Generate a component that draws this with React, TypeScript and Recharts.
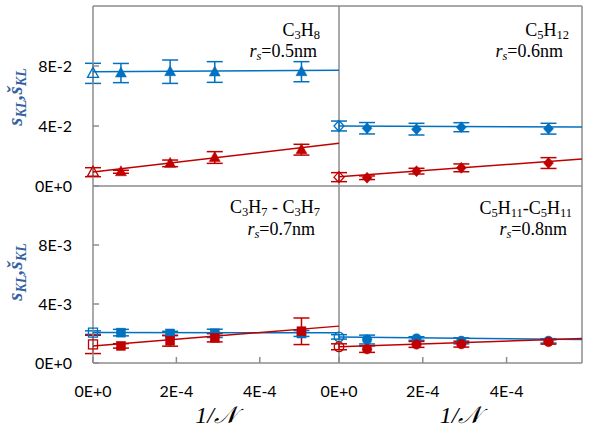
import React from "react";
import { ComposedChart, ErrorBar, Scatter, XAxis, YAxis } from "recharts";

// 1/N sample points (same for all four systems)
const invN = [0, 6.7e-5, 1.85e-4, 2.92e-4, 5.0e-4];

const xTicks = [0, 2e-4, 4e-4];
const xTickLabels = ["0E+0", "2E-4", "4E-4"];
const yTicksTop = [0, 0.04, 0.08];
const yTickLabelsTop = ["0E+0", "4E-2", "8E-2"];
const yTicksBottom = [0, 0.004, 0.008];
const yTickLabelsBottom = ["0E+0", "4E-3", "8E-3"];

// C3H8, rs = 0.5nm
const c3h8Blue = [0.0751, 0.0753, 0.0762, 0.076, 0.0762];
const c3h8BlueErr = [0.0067, 0.0064, 0.0078, 0.0069, 0.0067];
const c3h8Red = [0.0092, 0.0095, 0.0151, 0.019, 0.0242];
const c3h8RedErr = [0.003, 0.001, 0.0022, 0.0039, 0.0036];
const c3h8BlueFit = [0.0762, 0.0772];
const c3h8RedFit = [0.0093, 0.0285];

// C5H12, rs = 0.6nm
const c5h12Blue = [0.04, 0.0385, 0.0379, 0.0392, 0.0382];
const c5h12BlueErr = [0.0033, 0.0038, 0.0039, 0.003, 0.0036];
const c5h12Red = [0.0059, 0.0055, 0.0099, 0.0121, 0.0153];
const c5h12RedErr = [0.003, 0.0012, 0.0019, 0.0026, 0.0036];
const c5h12BlueFit = [0.04, 0.0393];
const c5h12RedFit = [0.0062, 0.018];

// C3H7-C3H7, rs = 0.7nm
const c3h7Blue = [0.00206, 0.00206, 0.002, 0.00201, 0.002];
const c3h7BlueErr = [0.00012, 0.00022, 0.00015, 0.00028, 0.0002];
const c3h7Red = [0.00126, 0.00116, 0.00151, 0.00171, 0.00215];
const c3h7RedErr = [0.00062, 0.00015, 0.00037, 0.00028, 0.0009];
const c3h7BlueFit = [0.00206, 0.00205];
const c3h7RedFit = [0.00116, 0.0025];

// C5H11-C5H11, rs = 0.8nm
const c5h11Blue = [0.00177, 0.00159, 0.00166, 0.0015, 0.0015];
const c5h11BlueErr = [0.00015, 0.0003, 0.00012, 0.0002, 0.00015];
const c5h11Red = [0.0011, 0.00094, 0.00126, 0.00128, 0.00143];
const c5h11RedErr = [0.0002, 0.00022, 0.0002, 0.0002, 0.00015];
const c5h11BlueFit = [0.00177, 0.00159];
const c5h11RedFit = [0.0011, 0.00166];

const BLUE = "#0070C0";
const RED = "#C00000";
const FRAME = "#8c8c8c";

type Kind = "triangle" | "diamond" | "square" | "circle";

const points = (ys: number[], errs: number[]) =>
  ys.map((y, i) => ({ x: invN[i], y, e: errs[i] }));
const fitLine = (ends: number[], xMax: number) => [
  { x: 0, y: ends[0] },
  { x: xMax, y: ends[1] },
];

const makeMarker = (kind: Kind, color: string) => (props: any) => {
  const { cx, cy, payload } = props;
  const open = payload.x === 0;
  const fill = open ? "none" : color;
  const stroke = color;
  const sw = open ? 1.3 : 0.5;
  if (kind === "triangle") {
    return (
      <polygon
        points={`${cx},${cy - 6} ${cx + 5.5},${cy + 4} ${cx - 5.5},${cy + 4}`}
        fill={fill}
        stroke={stroke}
        strokeWidth={sw}
      />
    );
  }
  if (kind === "diamond") {
    return (
      <polygon
        points={`${cx},${cy - 5.5} ${cx + 5},${cy} ${cx},${cy + 5.5} ${cx - 5},${cy}`}
        fill={fill}
        stroke={stroke}
        strokeWidth={sw}
      />
    );
  }
  if (kind === "square") {
    return <rect x={cx - 4.5} y={cy - 4.5} width={9} height={9} fill={fill} stroke={stroke} strokeWidth={sw} />;
  }
  return <circle cx={cx} cy={cy} r={4.8} fill={fill} stroke={stroke} strokeWidth={sw} />;
};

const noShape = () => <g />;

type PanelProps = {
  left: number;
  top: number;
  width: number;
  height: number;
  margin: { top: number; right: number; bottom: number; left: number };
  xMax: number;
  yMax: number;
  yTicks: number[];
  yLabels: string[];
  showY: boolean;
  showX: boolean;
  kind: Kind;
  blue: number[];
  blueErr: number[];
  red: number[];
  redErr: number[];
  blueFit: number[];
  redFit: number[];
};

function Panel(p: PanelProps) {
  const line = { stroke: FRAME, strokeWidth: 1.5 };
  const tickFont = { fill: "#000", fontSize: 16, fontFamily: "Lato" };
  return (
    <div style={{ position: "absolute", left: p.left, top: p.top }}>
      <ComposedChart width={p.width} height={p.height} margin={p.margin}>
        <XAxis
          xAxisId="b"
          dataKey="x"
          type="number"
          orientation="bottom"
          domain={[0, p.xMax]}
          ticks={xTicks}
          interval={0}
          axisLine={line}
          tickLine={line}
          mirror={!p.showX}
          height={p.showX ? 66 : 0}
          tick={p.showX ? tickFont : false}
          tickSize={p.showX ? -6 : 7}
          tickMargin={29}
          tickFormatter={(v: number) => xTickLabels[xTicks.indexOf(v)]}
          label={
            p.showX
              ? {
                  value: "1/\u{1D4A9}",
                  position: "insideBottom",
                  offset: 6,
                  fontSize: 24,
                  fontStyle: "italic",
                  fontFamily: "Liberation Serif",
                  fill: "#000",
                }
              : undefined
          }
        />
        <XAxis
          xAxisId="t"
          type="number"
          orientation="top"
          mirror
          domain={[0, p.xMax]}
          ticks={xTicks}
          interval={0}
          axisLine={line}
          tickLine={line}
          tick={false}
          tickSize={7}
        />
        <YAxis
          yAxisId="l"
          dataKey="y"
          type="number"
          orientation="left"
          domain={[0, p.yMax]}
          ticks={p.yTicks}
          interval={0}
          axisLine={line}
          tickLine={line}
          mirror={!p.showY}
          width={p.showY ? 93 : 0}
          tick={p.showY ? tickFont : false}
          tickSize={p.showY ? -6 : 7}
          tickMargin={27}
          tickFormatter={(v: number) => p.yLabels[p.yTicks.indexOf(v)]}
        />
        <YAxis
          yAxisId="r"
          type="number"
          orientation="right"
          mirror
          domain={[0, p.yMax]}
          ticks={p.yTicks}
          interval={0}
          axisLine={line}
          tickLine={line}
          tick={false}
          tickSize={7}
        />
        <Scatter
          xAxisId="b"
          yAxisId="l"
          data={fitLine(p.blueFit, p.xMax)}
          line={{ stroke: BLUE, strokeWidth: 1.5 }}
          shape={noShape}
          isAnimationActive={false}
        />
        <Scatter
          xAxisId="b"
          yAxisId="l"
          data={fitLine(p.redFit, p.xMax)}
          line={{ stroke: RED, strokeWidth: 1.5 }}
          shape={noShape}
          isAnimationActive={false}
        />
        <Scatter
          xAxisId="b"
          yAxisId="l"
          data={points(p.blue, p.blueErr)}
          shape={makeMarker(p.kind, BLUE)}
          isAnimationActive={false}
        >
          <ErrorBar dataKey="e" direction="y" width={8} stroke={BLUE} strokeWidth={1.5} />
        </Scatter>
        <Scatter
          xAxisId="b"
          yAxisId="l"
          data={points(p.red, p.redErr)}
          shape={makeMarker(p.kind, RED)}
          isAnimationActive={false}
        >
          <ErrorBar dataKey="e" direction="y" width={8} stroke={RED} strokeWidth={1.5} />
        </Scatter>
      </ComposedChart>
    </div>
  );
}

function Formula({ x, y, parts }: { x: number; y: number; parts: [string, string][] }) {
  // parts: [main, subscript]
  return (
    <text x={x} y={y} textAnchor="end" fontFamily="Liberation Serif" fontSize={18} fill="#000">
      {parts.map(([main, sub], i) => (
        <React.Fragment key={i}>
          <tspan dy={i === 0 ? 0 : -3}>{main}</tspan>
          <tspan fontSize={12.5} dy={3}>
            {sub}
          </tspan>
        </React.Fragment>
      ))}
    </text>
  );
}

function Radius({ x, y, value }: { x: number; y: number; value: string }) {
  return (
    <text x={x} y={y} textAnchor="end" fontFamily="Liberation Serif" fontSize={18} fill="#000">
      <tspan fontStyle="italic">r</tspan>
      <tspan fontStyle="italic" fontSize={12.5} dy={3}>
        s
      </tspan>
      <tspan dy={-3}>{"=" + value}</tspan>
    </text>
  );
}

function YLabel({ x, y }: { x: number; y: number }) {
  return (
    <text
      transform={`translate(${x},${y}) rotate(-90)`}
      textAnchor="middle"
      fontFamily="Liberation Serif"
      fontStyle="italic"
      fontWeight="bold"
      fontSize={21}
      fill="#3461A0"
    >
      <tspan>s</tspan>
      <tspan fontSize={14} dy={4}>
        KL
      </tspan>
      <tspan dy={-4}>,š</tspan>
      <tspan fontSize={14} dy={4}>
        KL
      </tspan>
    </text>
  );
}

export default function App() {
  return (
    <div style={{ position: "absolute", left: 0, top: 0, width: 591, height: 429, background: "#fff" }}>
      <Panel
        left={0}
        top={0}
        width={345}
        height={200}
        margin={{ top: 6, right: 6, bottom: 14, left: 0 }}
        xMax={5.9e-4}
        yMax={0.12}
        yTicks={yTicksTop}
        yLabels={yTickLabelsTop}
        showY
        showX={false}
        kind="triangle"
        blue={c3h8Blue}
        blueErr={c3h8BlueErr}
        red={c3h8Red}
        redErr={c3h8RedErr}
        blueFit={c3h8BlueFit}
        redFit={c3h8RedFit}
      />
      <Panel
        left={310}
        top={0}
        width={281}
        height={200}
        margin={{ top: 6, right: 9, bottom: 14, left: 29 }}
        xMax={5.8e-4}
        yMax={0.12}
        yTicks={yTicksTop}
        yLabels={yTickLabelsTop}
        showY={false}
        showX={false}
        kind="diamond"
        blue={c5h12Blue}
        blueErr={c5h12BlueErr}
        red={c5h12Red}
        redErr={c5h12RedErr}
        blueFit={c5h12BlueFit}
        redFit={c5h12RedFit}
      />
      <Panel
        left={0}
        top={180}
        width={345}
        height={249}
        margin={{ top: 6, right: 6, bottom: 0, left: 0 }}
        xMax={5.9e-4}
        yMax={0.012}
        yTicks={yTicksBottom}
        yLabels={yTickLabelsBottom}
        showY
        showX
        kind="square"
        blue={c3h7Blue}
        blueErr={c3h7BlueErr}
        red={c3h7Red}
        redErr={c3h7RedErr}
        blueFit={c3h7BlueFit}
        redFit={c3h7RedFit}
      />
      <Panel
        left={310}
        top={180}
        width={281}
        height={249}
        margin={{ top: 6, right: 9, bottom: 0, left: 29 }}
        xMax={5.8e-4}
        yMax={0.012}
        yTicks={yTicksBottom}
        yLabels={yTickLabelsBottom}
        showY={false}
        showX
        kind="circle"
        blue={c5h11Blue}
        blueErr={c5h11BlueErr}
        red={c5h11Red}
        redErr={c5h11RedErr}
        blueFit={c5h11BlueFit}
        redFit={c5h11RedFit}
      />
      <svg
        width={591}
        height={429}
        style={{ position: "absolute", left: 0, top: 0, pointerEvents: "none" }}
      >
        <Formula x={320} y={36} parts={[["C", "3"], ["H", "8"]]} />
        <Radius x={317} y={57} value="0.5nm" />
        <Formula x={569} y={36} parts={[["C", "5"], ["H", "12"]]} />
        <Radius x={563} y={57} value="0.6nm" />
        <Formula x={320} y={213} parts={[["C", "3"], ["H", "7"], [" - C", "3"], ["H", "7"]]} />
        <Radius x={315} y={235} value="0.7nm" />
        <Formula x={572} y={214} parts={[["C", "5"], ["H", "11"], ["-C", "5"], ["H", "11"]]} />
        <Radius x={567} y={235} value="0.8nm" />
        <YLabel x={22} y={97} />
        <YLabel x={22} y={272} />
      </svg>
    </div>
  );
}
